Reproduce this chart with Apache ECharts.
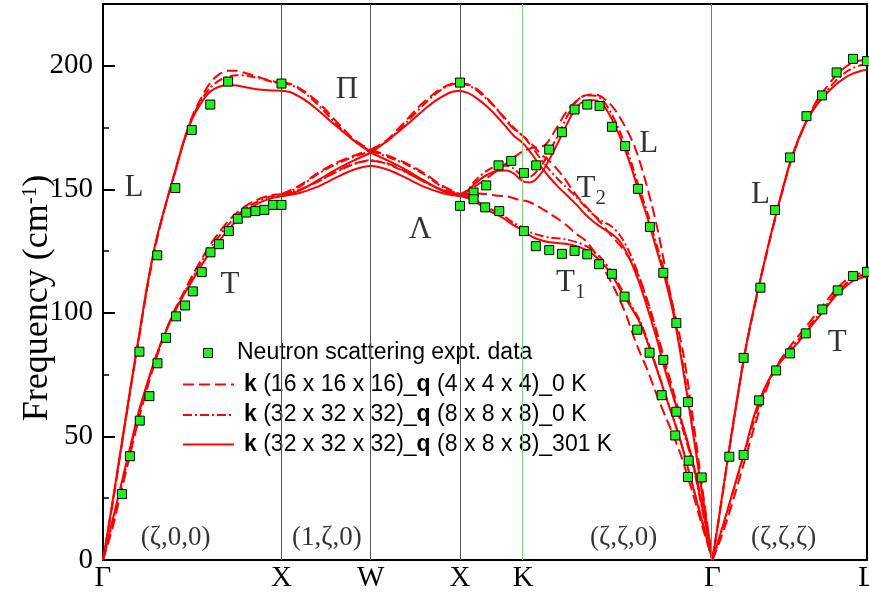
<!DOCTYPE html>
<html>
<head>
<meta charset="utf-8">
<script src="https://cdn.jsdelivr.net/npm/echarts@6/dist/echarts.min.js"></script>
<style>
  html, body { margin: 0; padding: 0; background: #fff; }
  #chart { width: 869px; height: 594px; }
</style>
</head>
<body>
<div id="chart"></div>
<script>
// Path through the Brillouin zone (units of 2π/a along the path)
const pathPoints = [0, 1, 1.5, 2, 2.3536, 3.4142, 4.2802];
const pathLabels = ['Γ', 'X', 'W', 'X', 'K', 'Γ', 'L'];
const yTicks = [0, 50, 100, 150, 200];

// ---- Neutron scattering data [q, frequency cm^-1] ----
const exptGX_L = [[0.204,84.3],[0.304,123.3],[0.405,150.5],[0.497,174.0],[0.601,184.3],[0.701,193.6],[1.0,192.8]];
const exptGX_T = [[0.106,26.7],[0.151,42.0],[0.206,56.4],[0.260,66.3],[0.305,79.6],[0.353,89.9],[0.409,98.6],[0.460,103.0],[0.503,108.7],[0.553,116.5],[0.602,124.5],[0.650,127.8],[0.705,133.1],[0.755,138.1],[0.802,140.6],[0.854,141.2],[0.904,141.7],[0.953,143.7],[1.0,143.7]];
const exptX = [[2.0,193.2],[2.0,143.3]];
const exptXK = [[2.076,148.7],[2.076,146.0],[2.147,151.6],[2.141,142.7],[2.220,141.2],[2.216,159.7],[2.287,161.5],[2.358,156.6],[2.358,133.1]];
const exptKG_L = [[2.427,159.7],[2.500,166.1],[2.571,173.1],[2.642,182.3],[2.713,184.3],[2.782,183.7],[2.851,175.3],[2.925,167.5],[2.997,150.2],[3.064,134.8],[3.139,116.2],[3.212,95.9],[3.277,63.9],[3.354,33.4]];
const exptKG_T = [[2.425,127.0],[2.500,125.4],[2.571,123.9],[2.642,125.1],[2.713,123.7],[2.779,119.7],[2.851,115.8],[2.922,106.6],[2.993,93.2],[3.062,83.9],[3.130,66.7],[3.139,81.0],[3.206,50.4],[3.212,60.0],[3.277,33.6],[3.281,40.2]];
const exptGL_L = [[3.509,41.8],[3.589,81.8],[3.683,110.2],[3.765,141.6],[3.849,162.9],[3.941,179.6],[4.028,188.0],[4.110,197.3],[4.202,202.8],[4.280,201.9]];
const exptGL_T = [[3.589,42.5],[3.675,64.6],[3.771,76.7],[3.849,83.6],[3.937,91.7],[4.030,101.4],[4.116,109.1],[4.202,114.9],[4.280,116.6]];

// ---- k(16x16x16)_q(4x4x4), 0 K ----
const k16_GX_L = [[0,0],[0.05,21],[0.1,44],[0.15,67],[0.2,89],[0.25,111],[0.3,129],[0.35,143.5],[0.4,156.5],[0.45,169],[0.5,179.5],[0.55,187],[0.6,193],[0.65,196.5],[0.7,198],[0.75,198],[0.8,197],[0.85,196],[0.9,194.8],[0.95,193.8],[1,193.2]];
const k16_GX_T = [[0,0],[0.05,12],[0.1,27],[0.15,42],[0.2,57],[0.25,70],[0.3,82],[0.35,92],[0.4,101],[0.45,108],[0.5,115],[0.55,121.5],[0.6,127.5],[0.65,132.5],[0.7,137],[0.75,140.5],[0.8,143.3],[0.85,145.3],[0.9,146.8],[0.95,147.7],[1,148]];
const k16_XW_U = [[1,193.2],[1.05,192.6],[1.1,191],[1.15,188.5],[1.2,185.5],[1.25,182],[1.3,178],[1.35,174.2],[1.4,170.5],[1.45,168],[1.5,166]];
const k16_WX_U = [[1.5,166],[1.55,168],[1.6,170.5],[1.65,174.2],[1.7,178],[1.75,182],[1.8,185.5],[1.85,188.5],[1.9,191],[1.95,192.6],[2,193.2]];
const k16_XW_Ta = [[1,148],[1.1,151.5],[1.2,156.5],[1.3,160.5],[1.4,163.5],[1.5,166]];
const k16_WX_Ta = [[1.5,166],[1.6,163.5],[1.7,160.5],[1.8,156.5],[1.9,151.5],[2,148]];
const k16_XWX_Tb = [[1,148],[1.1,149.8],[1.2,153],[1.3,157],[1.4,160.3],[1.5,161.5],[1.6,160.3],[1.7,157],[1.8,153],[1.9,149.8],[2,148]];
const k16_XKG_A = [[2,193.2],[2.05,192.3],[2.1,190.3],[2.15,187],[2.2,183],[2.25,178.5],[2.3,174.5],[2.354,171.5],[2.4,168.5],[2.45,164.5],[2.5,161.5],[2.534,159],[2.58,155],[2.627,150],[2.67,146],[2.72,142],[2.758,139],[2.8,135.5],[2.851,131],[2.9,127],[2.95,122],[3.0,115],[3.05,105],[3.1,93],[3.15,80],[3.2,67],[3.25,54],[3.3,41],[3.35,25],[3.414,0]];
const k16_XKG_B = [[2,148],[2.08,151],[2.16,155],[2.25,160],[2.354,165.5],[2.42,167],[2.478,168],[2.53,173.5],[2.59,180.7],[2.64,185],[2.683,187.4],[2.73,188.4],[2.776,188.1],[2.82,186],[2.87,182],[2.926,175.3],[2.98,167],[3.038,153.7],[3.104,134.8],[3.178,107.9],[3.25,84],[3.3,60],[3.35,33],[3.414,0]];
const k16_XKG_C = [[2,148],[2.1,148.3],[2.2,147.5],[2.27,147],[2.33,145.8],[2.384,145],[2.44,143],[2.5,140.3],[2.55,138],[2.608,134.8],[2.65,132],[2.702,129.4],[2.75,125],[2.786,120],[2.82,116],[2.86,110.6],[2.9,104.5],[2.935,98.4],[2.97,91],[3.01,83.6],[3.05,77],[3.085,70.1],[3.12,63.5],[3.16,56.6],[3.2,49.5],[3.234,43.2],[3.3,28],[3.35,15.5],[3.414,0]];
const k16_GL_L = [[3.414,0],[3.45,16.5],[3.5,40.5],[3.55,63.5],[3.6,85],[3.65,102.5],[3.7,118.5],[3.75,133.5],[3.8,147.5],[3.85,160.5],[3.9,170.5],[3.95,179],[4.0,186],[4.05,191],[4.1,195.5],[4.15,199],[4.2,201.2],[4.25,202.2],[4.28,202.5]];
const k16_GL_T = [[3.414,0],[3.45,6.5],[3.5,17],[3.55,29],[3.6,41.5],[3.65,54],[3.7,65.5],[3.75,75],[3.8,81.5],[3.85,86.5],[3.9,91],[3.95,95.5],[4.0,100],[4.05,104.5],[4.1,109],[4.15,112.5],[4.2,115],[4.25,116.2],[4.28,116.4]];

// ---- k(32x32x32)_q(8x8x8), 0 K ----
const k32_GX_L = [[0,0],[0.05,21.5],[0.1,44.5],[0.15,67.5],[0.2,89.5],[0.25,111.5],[0.3,129.5],[0.35,143.5],[0.4,156],[0.45,169],[0.5,179],[0.55,186],[0.6,191],[0.65,194],[0.7,195.5],[0.75,196.2],[0.8,196],[0.85,195.3],[0.9,194.5],[0.95,193.5],[1,193]];
const k32_GX_T = [[0,0],[0.05,14],[0.1,29],[0.15,44],[0.2,59],[0.25,71.5],[0.3,83],[0.35,92.5],[0.4,100.5],[0.45,107.5],[0.5,114],[0.55,120.5],[0.6,126],[0.65,131],[0.7,135.5],[0.75,139.3],[0.8,142.3],[0.85,144.5],[0.9,146.2],[0.95,147.3],[1,147.8]];
const k32_XW_U = [[1,193],[1.05,192.3],[1.1,190.5],[1.15,187.8],[1.2,184.5],[1.25,180.8],[1.3,177],[1.35,173.3],[1.4,170],[1.45,167.5],[1.5,165.5]];
const k32_WX_U = [[1.5,165.5],[1.55,167.5],[1.6,170],[1.65,173.3],[1.7,177],[1.75,180.8],[1.8,184.5],[1.85,187.8],[1.9,190.5],[1.95,192.3],[2,193]];
const k32_XW_Ta = [[1,147.8],[1.1,151],[1.2,156],[1.3,160],[1.4,163],[1.5,165.5]];
const k32_WX_Ta = [[1.5,165.5],[1.6,163],[1.7,160],[1.8,156],[1.9,151],[2,147.8]];
const k32_XWX_Tb = [[1,147.8],[1.1,149.8],[1.2,153],[1.3,156.8],[1.4,160],[1.5,161.8],[1.6,160],[1.7,156.8],[1.8,153],[1.9,149.8],[2,147.8]];
const k32_XKG_A = [[2,193],[2.05,192],[2.1,189.7],[2.15,186.5],[2.2,183],[2.25,179],[2.3,175],[2.354,171.5],[2.4,167.5],[2.45,162.5],[2.5,158],[2.55,154],[2.6,150.5],[2.65,147],[2.7,143],[2.75,139.5],[2.8,137],[2.85,135],[2.9,131],[2.95,124.5],[3.0,115.5],[3.05,104.5],[3.1,92.5],[3.15,78.5],[3.2,65],[3.25,52.5],[3.3,40],[3.35,23],[3.414,0]];
const k32_XKG_B = [[2,147.8],[2.04,149.5],[2.085,153.5],[2.15,157.5],[2.216,159.5],[2.26,159.5],[2.3,158.5],[2.33,156.5],[2.36,155],[2.39,155],[2.42,156.5],[2.46,160],[2.5,165],[2.55,172],[2.6,179.5],[2.646,185],[2.7,188],[2.75,188],[2.8,186],[2.85,180.5],[2.9,172.5],[2.95,163],[3.0,151.5],[3.05,140.5],[3.1,128],[3.15,115.5],[3.2,99.5],[3.25,78.5],[3.3,55],[3.35,30.5],[3.414,0]];
const k32_XKG_C = [[2,147.8],[2.05,147],[2.1,145],[2.15,142.8],[2.2,141],[2.25,139],[2.3,136.5],[2.354,134.5],[2.4,132.5],[2.45,131.3],[2.5,130.5],[2.59,129.8],[2.665,128.3],[2.72,126.5],[2.782,122.8],[2.851,116.5],[2.9,110.3],[2.935,106],[3.01,96.5],[3.085,81.5],[3.16,65],[3.234,48.7],[3.29,33.8],[3.35,17.5],[3.414,0]];
const k32_GL_L = [[3.414,0],[3.45,16.7],[3.5,41],[3.55,64],[3.6,85.5],[3.65,103],[3.7,119],[3.75,134],[3.8,148],[3.85,161],[3.9,171],[3.95,179],[4.0,185],[4.05,189.5],[4.1,193.5],[4.15,196.8],[4.2,199],[4.25,200.3],[4.28,200.7]];
const k32_GL_T = [[3.414,0],[3.45,8],[3.5,20],[3.55,32.5],[3.6,45],[3.65,57],[3.7,67.5],[3.75,75.5],[3.8,81],[3.85,85.5],[3.9,89.5],[3.95,94],[4.0,98.5],[4.05,103],[4.1,107.5],[4.15,111],[4.2,113.8],[4.25,115.2],[4.28,115.5]];

// ---- k(32x32x32)_q(8x8x8), 301 K ----
const t301_GX_L = [[0,0],[0.05,22],[0.1,45],[0.15,68],[0.2,90],[0.25,112],[0.3,130],[0.35,143.5],[0.4,156],[0.45,168.5],[0.5,178.5],[0.55,185],[0.6,189.5],[0.65,191.5],[0.7,192.2],[0.75,192],[0.8,191.3],[0.85,190.6],[0.9,190.2],[0.95,190],[1,189.9]];
const t301_GX_T = [[0,0],[0.05,15],[0.1,30],[0.15,45],[0.2,60],[0.25,72],[0.3,83],[0.35,92],[0.4,100],[0.45,107],[0.5,113],[0.55,119],[0.6,124.5],[0.65,129],[0.7,133.5],[0.75,137.5],[0.8,141],[0.85,143.5],[0.9,145.3],[0.95,146.5],[1,147.2]];
const t301_XW_U = [[1,189.9],[1.05,189.3],[1.1,187.5],[1.15,185.2],[1.2,182.3],[1.25,179.2],[1.3,176],[1.35,173],[1.4,170],[1.45,167.4],[1.5,164.8]];
const t301_WX_U = [[1.5,164.8],[1.55,167.4],[1.6,170],[1.65,173],[1.7,176],[1.75,179.2],[1.8,182.3],[1.85,185.2],[1.9,187.5],[1.95,189.3],[2,189.9]];
const t301_XW_Ta = [[1,147.2],[1.1,149.5],[1.2,153.5],[1.3,157.8],[1.4,161.5],[1.5,164.8]];
const t301_WX_Ta = [[1.5,164.8],[1.6,161.5],[1.7,157.8],[1.8,153.5],[1.9,149.5],[2,147.2]];
const t301_XWX_Tb = [[1,147.2],[1.1,148.5],[1.2,151],[1.3,154.5],[1.4,157.8],[1.5,159.4],[1.6,157.8],[1.7,154.5],[1.8,151],[1.9,148.5],[2,147.2]];
const t301_XKG_A = [[2,189.9],[2.05,188.8],[2.1,186.5],[2.15,183.6],[2.2,180],[2.25,176],[2.3,171.8],[2.354,168.6],[2.4,164.5],[2.45,159.5],[2.5,155],[2.55,151],[2.6,147.5],[2.65,144],[2.7,140],[2.75,136.8],[2.8,134.2],[2.85,132],[2.9,128.5],[2.95,122],[3.0,113],[3.05,102],[3.1,90],[3.15,76.5],[3.2,65],[3.25,54],[3.3,41],[3.35,24],[3.414,0]];
const t301_XKG_B = [[2,147.5],[2.04,149],[2.085,152.4],[2.15,155.8],[2.216,157.5],[2.26,157.6],[2.3,156.5],[2.33,154.5],[2.36,153],[2.39,152.8],[2.42,153.7],[2.46,157],[2.5,162],[2.55,169],[2.6,176.5],[2.646,182.5],[2.7,185.8],[2.75,186],[2.8,184.3],[2.85,178.5],[2.9,170.5],[2.95,161],[3.0,149.5],[3.05,138.5],[3.1,126],[3.15,113.5],[3.2,98],[3.25,77],[3.3,54],[3.35,30],[3.414,0]];
const t301_XKG_C = [[2,147.2],[2.05,146.3],[2.1,144.3],[2.15,141.8],[2.2,140],[2.25,138],[2.3,135.5],[2.354,133.3],[2.4,131],[2.45,129.5],[2.5,128.6],[2.59,128],[2.665,126.7],[2.72,125],[2.782,121.4],[2.851,115.3],[2.9,109],[2.935,105],[3.01,95.7],[3.085,80.9],[3.16,64.7],[3.234,48.5],[3.29,33.7],[3.35,17.5],[3.414,0]];
const t301_GL_L = [[3.414,0],[3.45,16.8],[3.5,41],[3.55,64],[3.6,85.5],[3.65,103],[3.7,119],[3.75,134],[3.8,148],[3.85,161],[3.9,171],[3.95,178.7],[4.0,184.3],[4.05,188.5],[4.1,192],[4.15,194.8],[4.2,196.8],[4.25,198],[4.28,198.3]];
const t301_GL_T = [[3.414,0],[3.45,8.5],[3.5,20.5],[3.55,33],[3.6,45.5],[3.65,59],[3.7,68.5],[3.75,75.5],[3.8,80.5],[3.85,84.5],[3.9,88.5],[3.95,93],[4.0,97.5],[4.05,102],[4.1,106.5],[4.15,110],[4.2,112.8],[4.25,114.2],[4.28,114.5]];

// Branch labels and direction labels (text, [q, frequency])
const branchLabels = [
  ['L', [0.174, 150.5]], ['T', [0.712, 111.2]], ['Π', [1.366, 190.1]], ['Λ', [1.777, 133.5]],
  ['{m|T}{s|2}', [2.735, 150]], ['{m|T}{s|1}', [2.62, 112]], ['L', [3.057, 168.6]],
  ['L', [3.683, 147.7]], ['T', [4.113, 87.7]]
];
const directionLabels = [
  ['(ζ,0,0)', [0.407, 8.8]], ['(1,ζ,0)', [1.254, 8.8]], ['(ζ,ζ,0)', [2.917, 8.8]], ['(ζ,ζ,ζ)', [3.813, 8.8]]
];

const NAME_EXPT = 'Neutron scattering expt. data';
const NAME_16 = 'k (16 x 16 x 16)_q (4 x 4 x 4)_0 K';
const NAME_32 = 'k (32 x 32 x 32)_q (8 x 8 x 8)_0 K';
const NAME_301 = 'k (32 x 32 x 32)_q (8 x 8 x 8)_301 K';

const SERIF = '"Liberation Serif", "Times New Roman", serif';
const SANS = '"Liberation Sans", Arial, sans-serif';
const RED = '#ff0000';
const GREEN = '#22ee22';
const DASH = [11, 5];
const DASH_DOT = [9, 3, 2, 3];

const calcGroups = [
  { name: NAME_16, dash: DASH, branches: [k16_GX_L, k16_GX_T, k16_XW_U, k16_WX_U, k16_XW_Ta, k16_WX_Ta, k16_XWX_Tb, k16_XKG_A, k16_XKG_B, k16_XKG_C, k16_GL_L, k16_GL_T] },
  { name: NAME_32, dash: DASH_DOT, branches: [k32_GX_L, k32_GX_T, k32_XW_U, k32_WX_U, k32_XW_Ta, k32_WX_Ta, k32_XWX_Tb, k32_XKG_A, k32_XKG_B, k32_XKG_C, k32_GL_L, k32_GL_T] },
  { name: NAME_301, dash: 'solid', branches: [t301_GX_L, t301_GX_T, t301_XW_U, t301_WX_U, t301_XW_Ta, t301_WX_Ta, t301_XWX_Tb, t301_XKG_A, t301_XKG_B, t301_XKG_C, t301_GL_L, t301_GL_T] }
];

const series = [];

// symmetry-point guide lines
series.push({
  type: 'line', data: [], silent: true,
  markLine: {
    silent: true, symbol: 'none', animation: false,
    label: { show: false },
    data: pathPoints.slice(1, -1).map((x, i) => ({
      xAxis: x,
      lineStyle: { type: 'solid', width: 1, color: pathLabels[i + 1] === 'K' ? '#55ee55' : (pathLabels[i + 1] === 'Γ' ? '#777777' : '#555555') }
    }))
  }
});

calcGroups.forEach(g => {
  g.branches.forEach(b => {
    series.push({
      type: 'line', name: g.name, data: b, smooth: 0.3,
      symbol: 'none', showSymbol: false, silent: true, z: 3,
      lineStyle: { color: RED, width: 2, type: g.dash },
      itemStyle: { color: RED }
    });
  });
});

series.push({
  type: 'scatter', name: NAME_EXPT, z: 5, silent: true,
  symbol: 'rect', symbolSize: 9,
  itemStyle: { color: GREEN, borderColor: '#000', borderWidth: 1, opacity: 1 },
  data: [].concat(exptGX_L, exptGX_T, exptX, exptXK, exptKG_L, exptKG_T, exptGL_L, exptGL_T)
});

series.push({
  type: 'scatter', z: 6, silent: true, symbolSize: 0,
  label: {
    show: true, position: 'inside', color: '#000', fontFamily: SERIF, fontSize: 31,
    formatter: p => p.data.text,
    rich: {
      m: { fontFamily: SERIF, fontSize: 31, color: '#000', verticalAlign: 'top', lineHeight: 31 },
      s: { fontFamily: SERIF, fontSize: 21, color: '#000', verticalAlign: 'top', lineHeight: 21, padding: [14, 0, 0, 0] }
    }
  },
  data: branchLabels.map(([t, v]) => ({ value: v, text: t }))
});

series.push({
  type: 'scatter', z: 6, silent: true, symbolSize: 0,
  label: { show: true, position: 'inside', color: '#000', fontFamily: SERIF, fontSize: 27, formatter: p => p.data.text },
  data: directionLabels.map(([t, v]) => ({ value: v, text: t }))
});

// Legend box drawn as a graphic group (white panel, key samples, rich labels)
const boldKQ = n => n.replace(/^k /, '{b|k} ').replace('_q ', '_{b|q} ');
const legendRows = [
  { name: NAME_EXPT, kind: 'marker', y: 353, tx: 237 },
  { name: NAME_16, kind: DASH, y: 384.5, tx: 244 },
  { name: NAME_32, kind: DASH_DOT, y: 415, tx: 244 },
  { name: NAME_301, kind: 'solid', y: 444.5, tx: 244 }
];
const legendChildren = [
  { type: 'rect', shape: { x: 168, y: 335, width: 462, height: 128 }, style: { fill: '#fff' } }
];
legendRows.forEach(r => {
  if (r.kind === 'marker') {
    legendChildren.push({ type: 'rect', shape: { x: 203.5, y: r.y - 4.5, width: 9, height: 9 }, style: { fill: GREEN, stroke: '#000', lineWidth: 1 } });
  } else {
    legendChildren.push({ type: 'line', shape: { x1: 183, y1: r.y, x2: 234, y2: r.y }, style: { stroke: RED, lineWidth: 2, lineDash: r.kind === 'solid' ? null : r.kind } });
  }
  legendChildren.push({
    type: 'text', x: r.tx, y: r.y,
    style: {
      text: boldKQ(r.name), fill: '#000', fontFamily: SANS, fontSize: 23, verticalAlign: 'middle', align: 'left',
      rich: { b: { fontFamily: SANS, fontSize: 23, fontWeight: 'bold', fill: '#000' } }
    }
  });
});

const chart = echarts.init(document.getElementById('chart'), null, { renderer: 'canvas' });
chart.setOption({
  animation: false,
  backgroundColor: '#fff',
  grid: { left: 103, top: 4, width: 764, height: 556, show: true, borderColor: '#000', borderWidth: 2, containLabel: false, outerBoundsMode: 'none' },
  xAxis: {
    type: 'value', min: 0, max: pathPoints[pathPoints.length - 1],
    splitLine: { show: false },
    axisLine: { lineStyle: { color: '#000', width: 2 } },
    axisTick: { show: false },
    axisLabel: {
      customValues: pathPoints, color: '#000', fontFamily: SERIF, fontSize: 29, margin: 4,
      formatter: v => {
        let best = 0;
        pathPoints.forEach((p, i) => { if (Math.abs(p - v) < Math.abs(pathPoints[best] - v)) best = i; });
        return pathLabels[best];
      }
    }
  },
  yAxis: {
    type: 'value', min: 0, max: 225, interval: 50,
    splitLine: { show: false },
    axisLine: { lineStyle: { color: '#000', width: 2 } },
    axisTick: { inside: true, length: 12, lineStyle: { color: '#000', width: 2 } },
    minorTick: { show: true, splitNumber: 2, length: 6, lineStyle: { color: '#000', width: 1.5 } },
    axisLabel: { customValues: yTicks, color: '#000', fontFamily: SERIF, fontSize: 29, margin: 10 },
    name: 'Frequency (cm{sup|-1})',
    nameLocation: 'middle', nameGap: 47, nameRotate: 90, nameMoveOverlap: false,
    nameTextStyle: {
      color: '#000', fontFamily: SERIF, fontSize: 36, padding: [0, 32, 0, 0],
      rich: { sup: { fontFamily: SERIF, fontSize: 21, color: '#000', verticalAlign: 'top', lineHeight: 36 } }
    }
  },
  graphic: [{ type: 'group', z: 100, silent: true, children: legendChildren }],
  series
});
</script>
</body>
</html>
